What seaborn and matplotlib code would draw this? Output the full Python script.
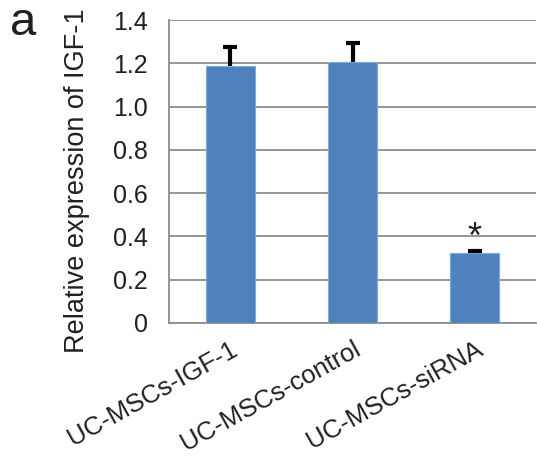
import matplotlib
matplotlib.use("Agg")
import matplotlib.pyplot as plt
import seaborn as sns
import pandas as pd

categories = ["UC-MSCs-IGF-1", "UC-MSCs-control", "UC-MSCs-siRNA"]
values = [1.187, 1.204, 0.322]
errors = [0.09, 0.09, 0.012]
yticks = [0, 0.2, 0.4, 0.6, 0.8, 1.0, 1.2, 1.4]
ytick_labels = ["0", "0.2", "0.4", "0.6", "0.8", "1.0", "1.2", "1.4"]
ylabel = "Relative expression of IGF-1"
panel = "a"
sig_marks = ["", "", "*"]

sns.set_style("white")
plt.rcParams['font.family'] = ['Liberation Sans', 'DejaVu Sans']

df = pd.DataFrame({"group": categories, "value": values})

fig = plt.figure(figsize=(5.37, 4.58), dpi=100)
ax = fig.add_axes([169/537, 1 - 323/458, (536-169)/537, (323-20)/458])

sns.barplot(data=df, x="group", y="value", color="#4F81BD", width=0.4,
            saturation=1, edgecolor="#7FA7D8", linewidth=0.8, ax=ax, zorder=3)

xs = list(range(len(categories)))
tops = [v + e for v, e in zip(values, errors)]
# upper-only error bars: stem + single cap
ax.errorbar(xs, values, yerr=[[0]*3, errors], fmt="none",
            ecolor="black", elinewidth=3, capsize=0, zorder=4)
ax.scatter(xs, tops, marker="_", s=90, linewidths=3, color="black", zorder=5)

for i, (t, s) in enumerate(zip(tops, sig_marks)):
    if s:
        ax.text(i, t - 0.025, s, ha="center", va="bottom", fontsize=26,
                color="#231f20")

ax.set_xlim(-0.5, 2.5)
ax.set_ylim(0, 1.4)
ax.set_yticks(yticks)
ax.set_yticklabels(ytick_labels, fontsize=18, color="#231f20")
ax.yaxis.grid(True, color="#8c8c8c", linewidth=1.3, zorder=0)
ax.set_axisbelow(True)

ax.set_xticks([0, 1, 2])
ax.set_xticklabels(categories, fontsize=18.5, rotation=29, ha="right",
                   rotation_mode="anchor", color="#231f20")
ax.set_xticks([0.5, 1.5], minor=True)
ax.tick_params(axis="x", which="major", length=0, pad=10)
ax.tick_params(axis="x", which="minor", length=6, width=1.3, color="#8c8c8c", direction="out")
ax.tick_params(axis="y", length=9, width=1.3, color="#8c8c8c", direction="out", pad=6)

for side in ["top", "right"]:
    ax.spines[side].set_visible(False)
for side in ["left", "bottom"]:
    ax.spines[side].set_color("#8c8c8c")
    ax.spines[side].set_linewidth(1.3)

ax.set_xlabel("")
ax.set_ylabel("")
fig.text(77/537, 1 - 181/458, ylabel, fontsize=19.5, color="#231f20",
         rotation=90, ha="center", va="center")

fig.text(10/537, 1 - 35/458, panel, fontsize=34, color="#231f20", ha="left", va="baseline")

fig.savefig("out.png", dpi=100)
